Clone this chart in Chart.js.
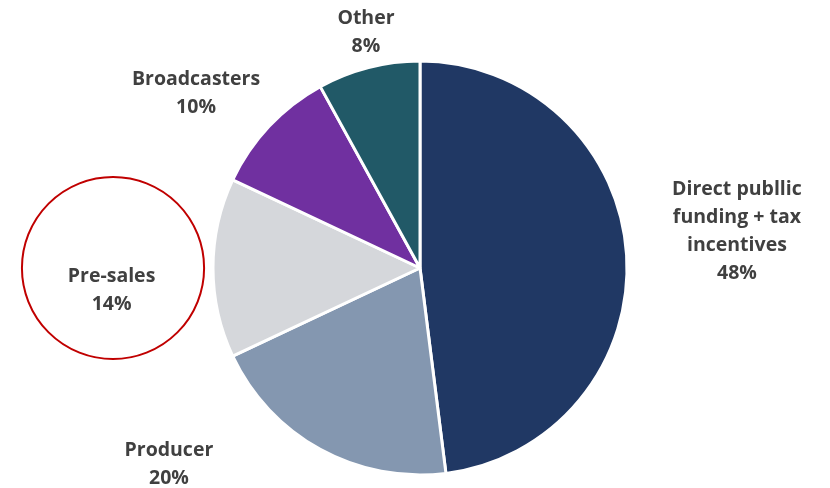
<!DOCTYPE html>
<html>
<head>
<meta charset="utf-8">
<script src="https://cdn.jsdelivr.net/npm/chart.js@4.4.1/dist/chart.umd.min.js"></script>
<style>
  html, body { margin: 0; padding: 0; background: #fff; }
  #wrap { width: 830px; height: 488px; position: relative; }
</style>
</head>
<body>
<div id="wrap"><canvas id="pie"></canvas></div>
<script>
// Funding sources, clockwise from 12 o'clock
const categories = [
  ['Direct publlic', 'funding + tax', 'incentives'],
  ['Producer'],
  ['Pre-sales'],
  ['Broadcasters'],
  ['Other'],
];
const shares = [48, 20, 14, 10, 8];
const sliceColors = ['#203864', '#8497B0', '#D5D7DB', '#7030A0', '#215967'];

// Label block centres, in units of the pie radius from the pie centre
const labelAnchors = [
  [1.531, -0.178],
  [-1.213, 0.947],
  [-1.49, 0.11],
  [-1.082, -0.843],
  [-0.261, -1.138],
];

const outsideLabels = {
  id: 'outsideLabels',
  afterDraw(chart) {
    const arcs = chart.getDatasetMeta(0).data;
    if (!arcs.length) return;
    const { x: cx, y: cy, outerRadius: r } = arcs[0];
    const ctx = chart.ctx;
    ctx.save();

    // red ring round the Pre-sales label
    ctx.strokeStyle = '#C00000';
    ctx.lineWidth = 2;
    ctx.beginPath();
    ctx.arc(cx - 1.483 * r, cy, 0.44 * r, 0, Math.PI * 2);
    ctx.stroke();

    ctx.fillStyle = '#404040';
    ctx.font = 'bold 19.5px "Open Sans", Lato, sans-serif';
    ctx.textAlign = 'center';
    ctx.textBaseline = 'middle';
    const lineH = 28;
    categories.forEach((lines, i) => {
      const all = lines.concat([shares[i] + '%']);
      const bx = cx + labelAnchors[i][0] * r;
      const by = cy + labelAnchors[i][1] * r;
      const top = by - (all.length - 1) * lineH / 2;
      all.forEach((t, j) => ctx.fillText(t, bx, top + j * lineH));
    });
    ctx.restore();
  },
};

new Chart(document.getElementById('pie'), {
  type: 'pie',
  data: {
    labels: categories.map((l) => l.join(' ')),
    datasets: [{
      data: shares,
      backgroundColor: sliceColors,
      borderColor: '#FFFFFF',
      borderWidth: 3,
      hoverOffset: 0,
      radius: 207,
    }],
  },
  options: {
    responsive: true,
    maintainAspectRatio: false,
    animation: false,
    events: [],
    layout: { padding: { top: 61, bottom: 13, left: 10, right: 0 } },
    plugins: {
      legend: { display: false },
      tooltip: { enabled: false },
    },
  },
  plugins: [outsideLabels],
});
</script>
</body>
</html>
